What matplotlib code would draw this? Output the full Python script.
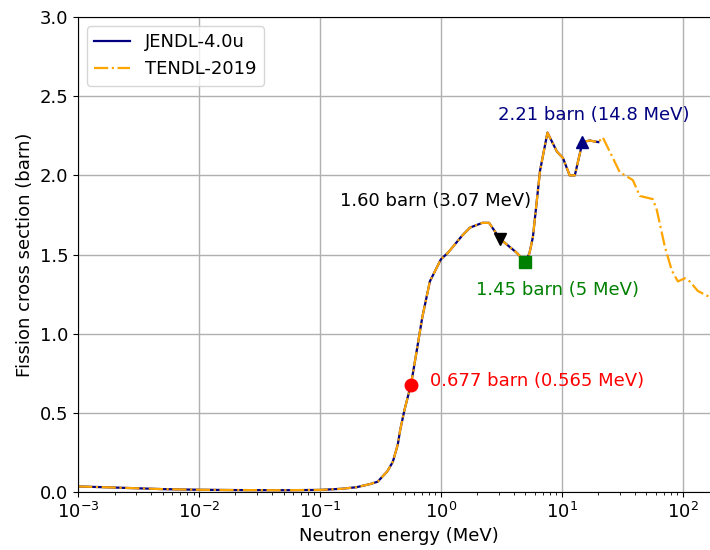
import matplotlib
matplotlib.use("Agg")
import matplotlib.pyplot as plt
import numpy as np

# JENDL-4.0u (MeV, barn)
jendl_energy = [1e-3, 2e-3, 5e-3, 1e-2, 2e-2, 5e-2, 0.1, 0.15, 0.2, 0.26, 0.3, 0.36, 0.40,
                0.44, 0.46, 0.5, 0.565, 0.63, 0.70, 0.81, 1.0, 1.14, 1.5, 1.74, 2.2, 2.5,
                3.07, 4.25, 5.0, 5.4, 5.76, 6.6, 7.6, 9.1, 10.2, 11.6, 12.8, 14.8, 17.0, 20.0]
jendl_xs = [0.035, 0.028, 0.018, 0.014, 0.012, 0.011, 0.013, 0.02, 0.03, 0.05, 0.065, 0.13, 0.19,
            0.30, 0.39, 0.52, 0.677, 0.89, 1.10, 1.33, 1.47, 1.51, 1.62, 1.67, 1.70, 1.70,
            1.60, 1.51, 1.45, 1.51, 1.61, 2.03, 2.27, 2.15, 2.11, 2.00, 2.00, 2.21, 2.22, 2.21]

# TENDL-2019 (MeV, barn)
tendl_energy = jendl_energy + [21.8, 30.1, 38.6, 44.1, 56.5, 61.0, 71.0, 81.0, 91.0,
                               104.0, 114.0, 133.0, 158.0, 200.0]
tendl_xs = jendl_xs + [2.24, 2.02, 1.97, 1.87, 1.85, 1.78, 1.55, 1.40, 1.33,
                       1.35, 1.33, 1.27, 1.24, 1.22]

# Annotated points
pt_energy = [0.565, 3.07, 5.0, 14.8]
pt_xs = [0.677, 1.60, 1.45, 2.21]
pt_labels = ["0.677 barn (0.565 MeV)", "1.60 barn (3.07 MeV)",
             "1.45 barn (5 MeV)", "2.21 barn (14.8 MeV)"]
pt_colors = ["red", "black", "green", "navy"]
pt_markers = ["o", "v", "s", "^"]

plt.rcParams['font.size'] = 13

fig = plt.figure(figsize=(7.1, 5.5), dpi=100)
ax = fig.add_axes([0.110, 0.1055, 0.903, 0.8635])

ax.plot(jendl_energy, jendl_xs, color="navy", lw=1.6, label="JENDL-4.0u")
ax.plot(tendl_energy, tendl_xs, color="orange", lw=1.6, ls="-.", label="TENDL-2019")

offsets = [(14, 3), (-46, 27), (23, -19.5), (8, 19.5)]
has = ["left", "center", "center", "center"]
for e, v, lab, c, m, off, ha in zip(pt_energy, pt_xs, pt_labels, pt_colors, pt_markers, offsets, has):
    ax.plot([e], [v], marker=m, color=c, ms=9, ls="none")
    ax.annotate(lab, (e, v), xytext=off, textcoords="offset points", color=c,
                ha=ha, va="center")

ax.set_xscale("log")
ax.set_xlim(1e-3, 200)
ax.set_ylim(0, 3.0)
ax.set_xlabel("Neutron energy (MeV)")
ax.set_ylabel("Fission cross section (barn)")
ax.grid(True, which="major", color="#b0b0b0", lw=1.0)
ax.legend(loc="upper left")

fig.savefig("out.png", dpi=100)
